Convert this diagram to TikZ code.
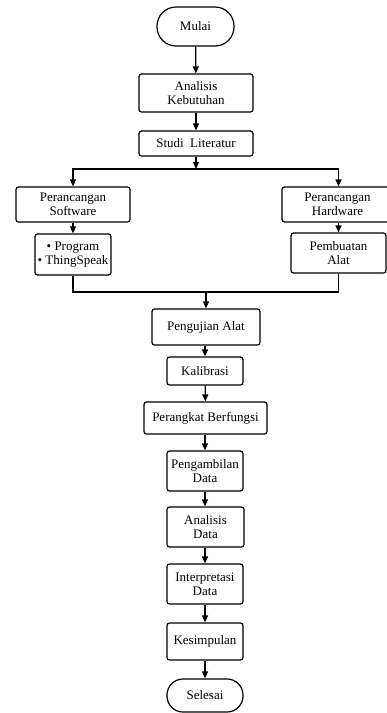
\documentclass[tikz,border=0pt]{standalone}
\usepackage{fontspec}
\setmainfont{Liberation Serif}
\usetikzlibrary{arrows.meta}
\begin{document}
\begin{tikzpicture}[x=1pt,y=-1pt,
  box/.style={draw, line width=1.2pt, rounded corners=2.5pt, inner sep=0pt, align=center,
    font=\fontsize{13}{14}\selectfont},
  term/.style={box, rounded corners=16pt},
  arr/.style={line width=1.2pt, -{Triangle[length=7pt,width=6pt]}},
  ln/.style={line width=1.2pt}]
\useasboundingbox (0,0) rectangle (387,713);
\node[term, minimum width=77pt, minimum height=39pt, rounded corners=19pt] (mulai) at (195.5,26.5) {Mulai};
\node[box, minimum width=114pt, minimum height=38pt] (ak) at (196,93) {Analisis\\Kebutuhan};
\node[box, minimum width=114pt, minimum height=25pt] (sl) at (196,143.5) {Studi\ \ Literatur};
\coordinate (split) at (196,169);
\node[box, minimum width=114pt, minimum height=35pt] (ps) at (73,204.5) {Perancangan\\Software};
\node[box, minimum width=76pt, minimum height=41pt] (prog) at (73,254.5) {• Program\\• ThingSpeak};
\node[box, minimum width=111pt, minimum height=35pt] (ph) at (337.5,204.5) {Perancangan\\Hardware};
\node[box, minimum width=95pt, minimum height=40pt] (pa) at (338.5,253) {Pembuatan\\Alat};
\coordinate (merge) at (206,292);
\node[box, minimum width=108pt, minimum height=36pt] (uji) at (206,327) {Pengujian Alat};
\node[box, minimum width=76pt, minimum height=28pt] (kal) at (205,371) {Kalibrasi};
\node[box, minimum width=123pt, minimum height=32pt] (pb) at (205.5,418) {Perangkat Berfungsi};
\node[box, minimum width=76pt, minimum height=40pt] (pd) at (205,471) {Pengambilan\\Data};
\node[box, minimum width=77pt, minimum height=40pt] (ad) at (205.5,527) {Analisis\\Data};
\node[box, minimum width=76pt, minimum height=40pt] (id) at (205,584) {Interpretasi\\Data};
\node[box, minimum width=76pt, minimum height=37pt] (kes) at (205,641.5) {Kesimpulan};
\node[term, minimum width=76pt, minimum height=33pt] (sel) at (205,695.5) {Selesai};

\draw[arr] (mulai) -- (ak);
\draw[arr] (ak) -- (sl);
\draw[arr] (sl) -- (split);
\draw[arr] (split) -| (ps.north);
\draw[arr] (split) -| (ph.north -| pa.north);
\draw[arr] (ps) -- (prog);
\draw[arr] (ph.south -| pa.north) -- (pa);
\draw[ln] (prog.south) |- (merge);
\draw[ln] (pa.south) |- (merge);
\draw[arr] (merge) -- (uji.north -| merge);
\draw[arr] (uji.south -| kal.north) -- (kal);
\draw[arr] (kal) -- (pb);
\draw[arr] (pb.south -| pd.north) -- (pd);
\draw[arr] (pd.south) -- (ad.north -| pd.south);
\draw[arr] (ad.south -| id.north) -- (id);
\draw[arr] (id) -- (kes);
\draw[arr] (kes) -- (sel);
\end{tikzpicture}
\end{document}
